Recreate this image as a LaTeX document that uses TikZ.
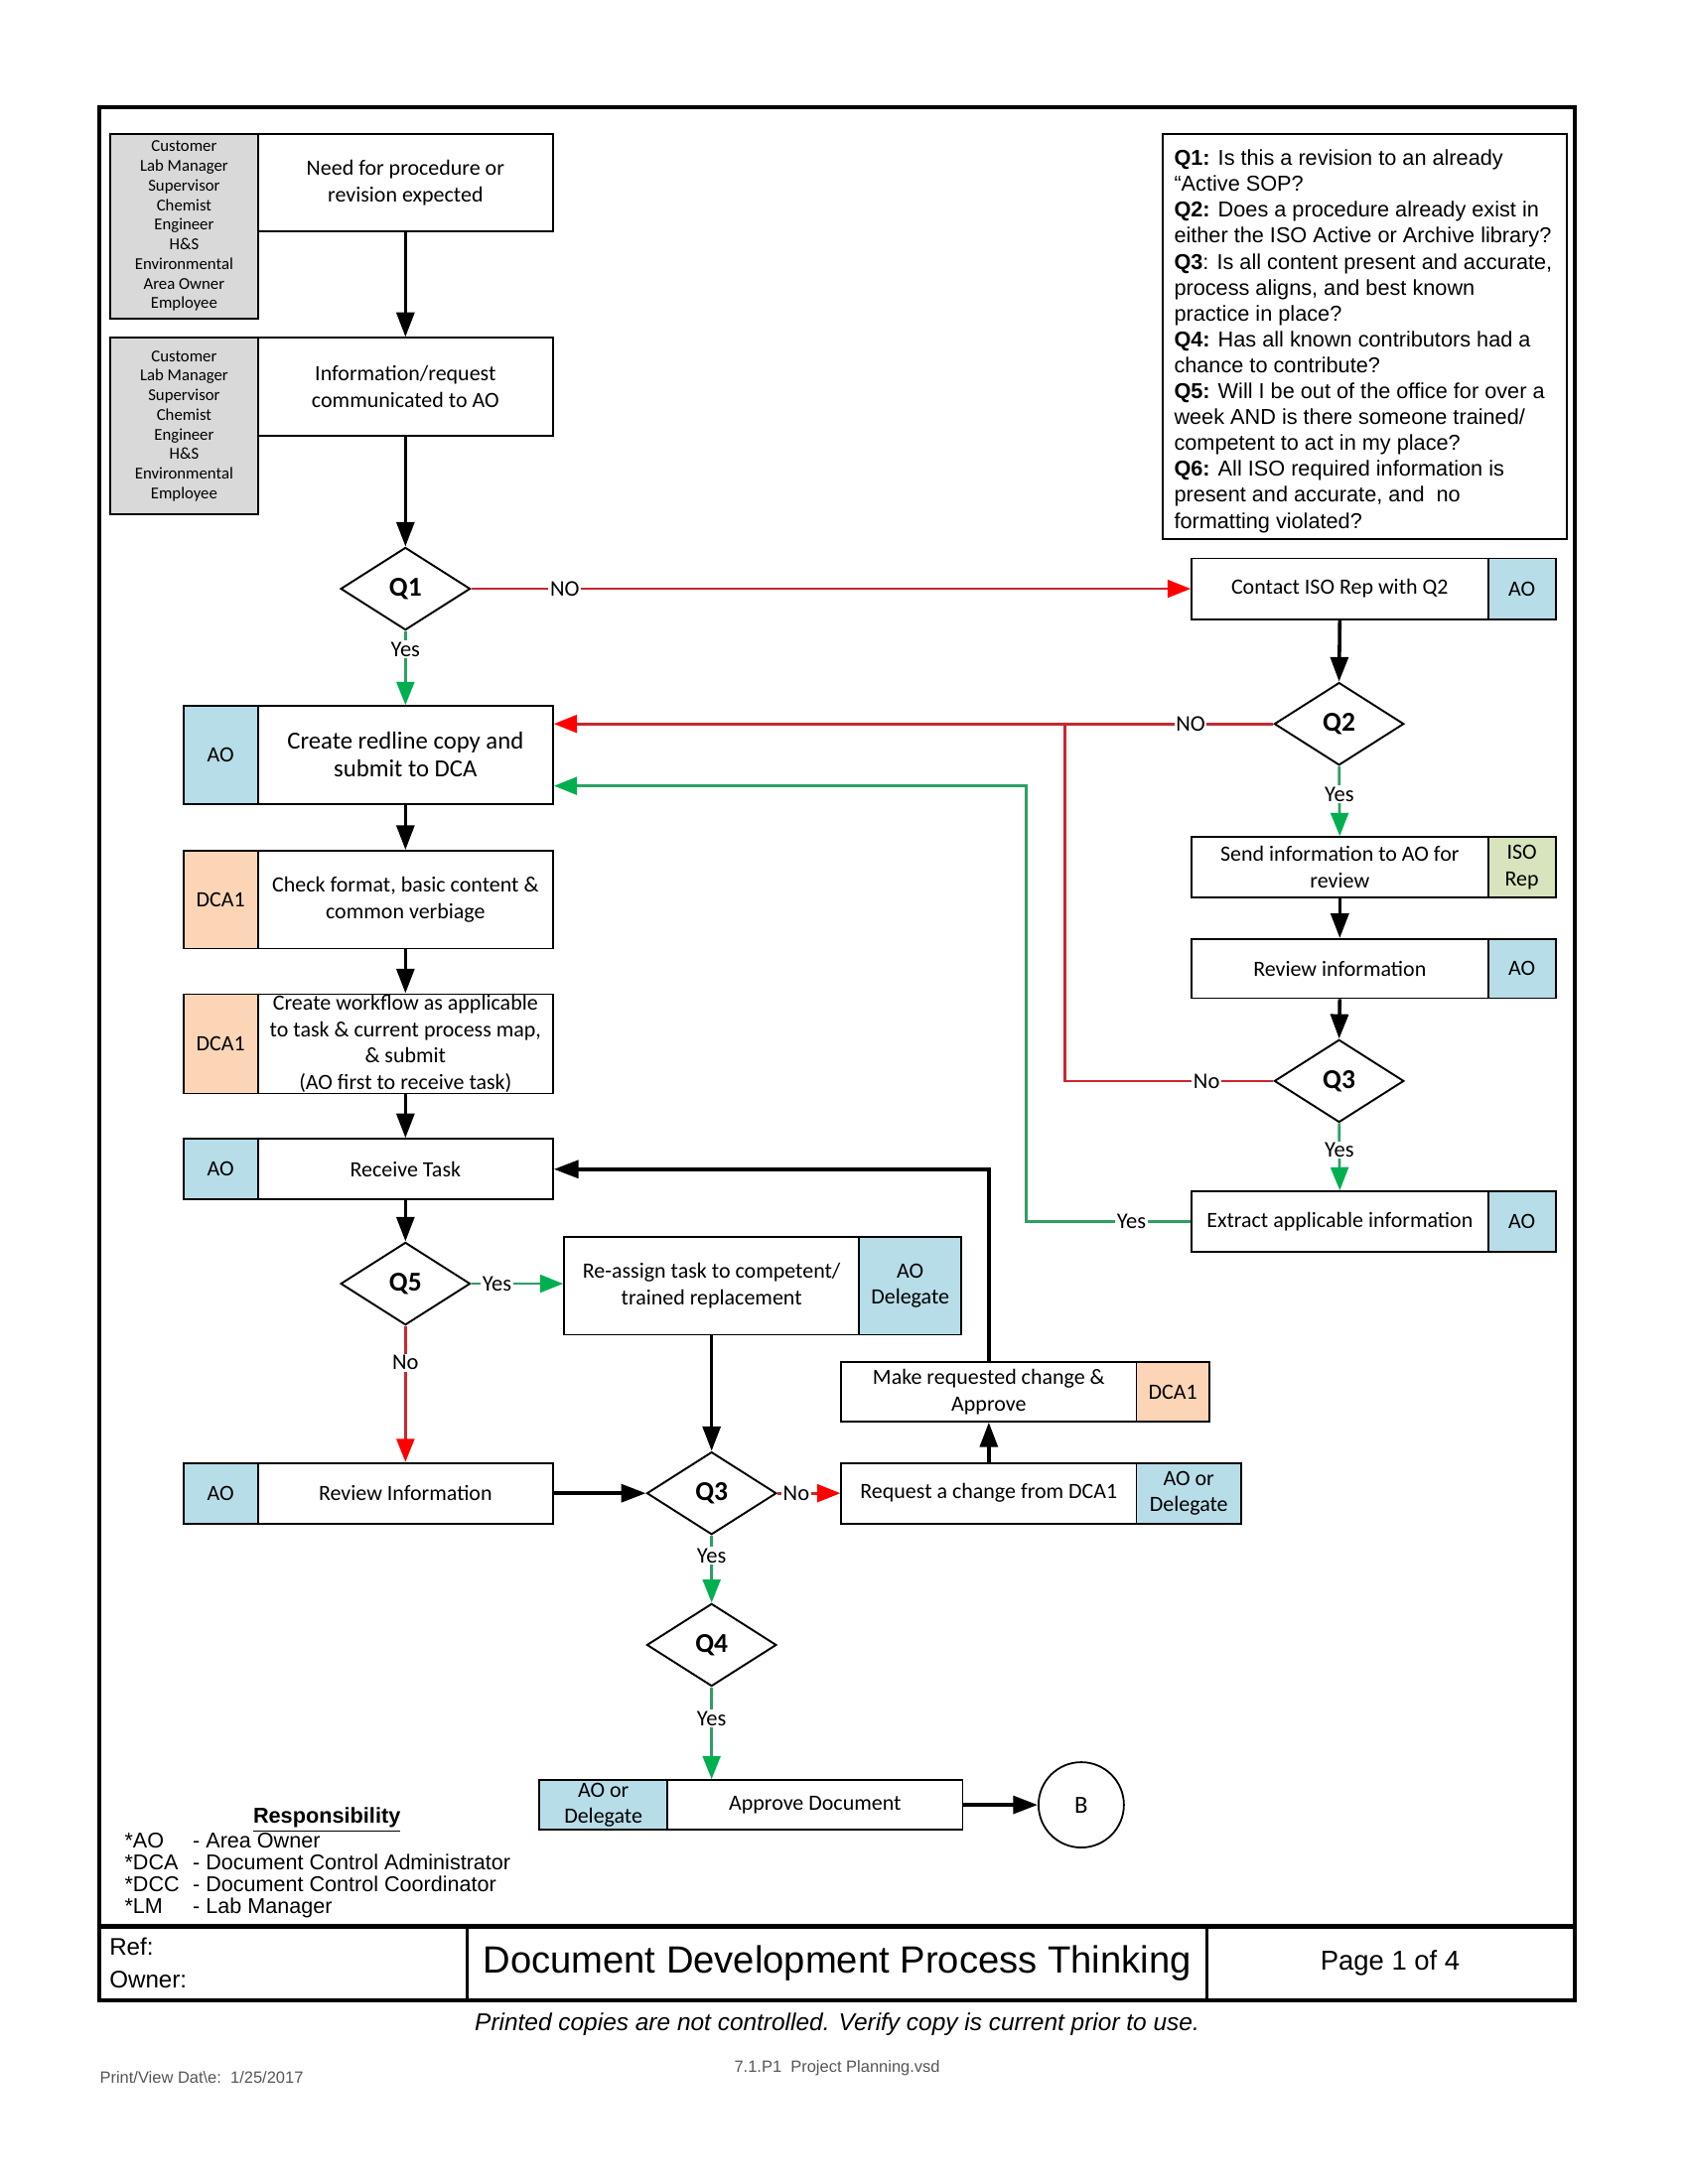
\documentclass[tikz,border=0pt]{standalone}
\usepackage{fontspec}
\setmainfont{Carlito}
\newfontfamily\arial{Liberation Sans}
\usetikzlibrary{arrows.meta,shapes.geometric}
\definecolor{roleblue}{HTML}{B7DDE8}
\definecolor{rolepeach}{HTML}{FBD5B5}
\definecolor{rolegray}{HTML}{D9D9D9}
\definecolor{rolegreen}{HTML}{D7E4BD}
\definecolor{redline}{HTML}{C8282D}
\definecolor{redhead}{HTML}{FF0000}
\definecolor{greenline}{HTML}{2E9F63}
\definecolor{greenhead}{HTML}{00B050}
\definecolor{footgray}{HTML}{555555}
\def\ulen{0.5056pt}
\newcommand\bx[7]{\node[#6, minimum width={(#4-#2)*\ulen}, minimum height={(#5-#3)*\ulen}] (#1) at ({(#2+#4)/2},{(#3+#5)/2}) {#7};}
\tikzset{
  box/.style={draw, line width=0.65pt, inner sep=0pt, align=center, font=\fontsize{8}{9.6}\selectfont},
  blue/.style={box, fill=roleblue},
  peach/.style={box, fill=rolepeach},
  graybox/.style={box, fill=rolegray, font=\fontsize{6.1}{7.2}\selectfont},
  dia/.style={diamond, draw, line width=0.7pt, minimum width=47.5pt, minimum height=30.3pt, inner sep=0pt, font=\bfseries\fontsize{10}{12}\selectfont},
  blk/.style={line width=1.3pt, -{Triangle[length=9pt,width=6.5pt]}},
  redarr/.style={draw=redline, line width=1pt, -{Triangle[length=8.5pt,width=6.5pt,color=redhead]}},
  redl/.style={draw=redline, line width=1pt},
  grnarr/.style={draw=greenline, line width=1pt, -{Triangle[length=8.5pt,width=6.5pt,color=greenhead]}},
  lbl/.style={fill=white, inner sep=0.6pt, text=black, font=\fontsize{8.2}{9}\selectfont},
}
\begin{document}
\begin{tikzpicture}[x=\ulen,y=-\ulen]
\useasboundingbox (0,0) rectangle (1224,1584);
% frame and footer
\draw[line width=1.5pt] (72,78) rectangle (1142,1451);
\draw[line width=1.8pt] (72,1397) -- (1142,1397);
\draw[line width=1.1pt] (339,1397) -- (339,1451);
\draw[line width=1.1pt] (875,1397) -- (875,1451);
\node[anchor=west, inner sep=0pt, font=\arial\fontsize{8.8}{10}\selectfont] (ref) at (79,1412) {Ref:};
\node[anchor=west, inner sep=0pt, font=\arial\fontsize{8.8}{10}\selectfont] (owner) at (79,1436) {Owner:};
\node[inner sep=0pt, font=\arial\fontsize{13.9}{15}\selectfont] (title) at (607,1424) {Document Development Process Thinking};
\node[inner sep=0pt, font=\arial\fontsize{10}{11}\selectfont] (page) at (1008,1424) {Page 1 of 4};
\node[inner sep=0pt, font=\arial\itshape\fontsize{8.9}{11}\selectfont] (printed) at (607,1468) {Printed copies are not controlled. Verify copy is current prior to use.};
\node[inner sep=0pt, text=footgray, font=\arial\fontsize{6}{7}\selectfont] (vsd) at (607,1500) {7.1.P1\ \ Project Planning.vsd};
\node[anchor=west, inner sep=0pt, text=footgray, font=\arial\fontsize{6}{7}\selectfont] (pdate) at (72,1507) {Print/View Dat\textbackslash e:\ \ 1/25/2017};
% responsibility
\node[inner sep=0pt, font=\arial\bfseries\fontsize{7.9}{8}\selectfont] (resp) at (237,1320) {\underline{Responsibility}};
\node[anchor=north west, inner sep=0pt, align=left, font=\arial\fontsize{7.85}{8}\selectfont] (legend) at (90,1329)
 {\makebox[25pt][l]{*AO}- Area Owner\\\makebox[25pt][l]{*DCA}- Document Control Administrator\\\makebox[25pt][l]{*DCC}- Document Control Coordinator\\\makebox[25pt][l]{*LM}- Lab Manager};
% top-left boxes
\bx{g1}{80}{97}{187}{231}{graybox}{Customer\\Lab Manager\\Supervisor\\Chemist\\Engineer\\H\&S\\Environmental\\Area Owner\\Employee}
\bx{b1}{187}{97}{401}{168}{box}{Need for procedure or\\revision expected}
\bx{g2}{80}{245}{187}{373}{graybox}{Customer\\Lab Manager\\Supervisor\\Chemist\\Engineer\\H\&S\\Environmental\\Employee}
\bx{b2}{187}{245}{401}{316}{box}{Information/request\\communicated to AO}
\node[dia] (q1) at (294,427) {Q1};
% question box
\bx{qbox}{843}{97}{1136}{391}{box}{}
\node[anchor=west, inner sep=0pt, align=left, font=\arial\fontsize{7.9}{9.5}\selectfont] (qtext) at (851,247.5)
 {\textbf{Q1:} Is this a revision to an already\\“Active SOP?\\\textbf{Q2:} Does a procedure already exist in\\either the ISO Active or Archive library?\\\textbf{Q3}: Is all content present and accurate,\\process aligns, and best known\\practice in place?\\\textbf{Q4:} Has all known contributors had a\\chance to contribute?\\\textbf{Q5:} Will I be out of the office for over a\\week AND is there someone trained/\\competent to act in my place?\\\textbf{Q6:} All ISO required information is\\present and accurate, and\ \ no\\formatting violated?};
% right column
\bx{contact}{864}{405}{1079}{449}{box}{Contact ISO Rep with Q2}
\bx{contactr}{1079}{405}{1128}{449}{blue}{AO}
\node[dia] (q2) at (971,525) {Q2};
\bx{send}{864}{607}{1079}{651}{box}{Send information to AO for\\review}
\bx{sendr}{1079}{607}{1128}{651}{box,fill=rolegreen}{ISO\\Rep}
\bx{revr}{864}{681}{1079}{724}{box}{Review information}
\bx{revrr}{1079}{681}{1128}{724}{blue}{AO}
\node[dia] (q3r) at (971,784) {Q3};
\bx{extract}{864}{864}{1079}{908}{box}{Extract applicable information}
\bx{extractr}{1079}{864}{1128}{908}{blue}{AO}
% left column
\bx{creater}{133}{512}{187}{583}{blue}{AO}
\bx{create}{187}{512}{401}{583}{box,font=\fontsize{9}{10.2}\selectfont}{Create redline copy and\\submit to DCA}
\bx{checkr}{133}{617}{187}{688}{peach}{DCA1}
\bx{check}{187}{617}{401}{688}{box}{Check format, basic content \&\\common verbiage}
\bx{workr}{133}{721}{187}{793}{peach}{DCA1}
\bx{work}{187}{721}{401}{793}{box}{Create workflow as applicable\\to task \& current process map,\\\& submit\\(AO first to receive task)}
\bx{recvr}{133}{826}{187}{870}{blue}{AO}
\bx{recv}{187}{826}{401}{870}{box}{Receive Task}
\node[dia] (q5) at (294,931) {Q5};
\bx{reassign}{409}{897}{623}{968}{box}{Re-assign task to competent/\\trained replacement}
\bx{reassignr}{623}{897}{697}{968}{blue}{AO\\Delegate}
\bx{revir}{133}{1061}{187}{1105}{blue}{AO}
\bx{revi}{187}{1061}{401}{1105}{box}{Review Information}
\node[dia] (q3b) at (516,1083) {Q3};
\bx{make}{610}{988}{824}{1031}{box}{Make requested change \&\\Approve}
\bx{maker}{824}{988}{877}{1031}{peach}{DCA1}
\bx{req}{610}{1061}{824}{1105}{box}{Request a change from DCA1}
\bx{reqr}{824}{1061}{900}{1105}{blue}{AO or\\Delegate}
\node[dia] (q4) at (516,1193) {Q4};
\bx{appr}{391}{1291}{484}{1327}{blue}{AO or\\Delegate}
\bx{app}{484}{1291}{698}{1327}{box}{Approve Document}
\node[circle, draw, line width=0.65pt, minimum size=31.3pt, inner sep=0pt, font=\fontsize{9}{10}\selectfont] (B) at (784,1309) {B};
% coordinates
\coordinate (j1) at (772,525);
\coordinate (g1c) at (744,570);
% connectors
\draw[blk] (b1.south) -- (b2.north);
\draw[blk] (b2.south) -- (q1.north);
\draw[redarr] (q1.east) -- node[lbl, pos=0.13] {NO} (contact.west);
\draw[grnarr] (q1.south) -- node[lbl, pos=0.25] {Yes} (create.north);
\draw[blk] (contact.south) -- (q2.north);
\draw[redarr] (q2.west) -- node[lbl, pos=0.115] {NO} (q2.west -| create.east);
\draw[grnarr] (q2.south) -- node[lbl, pos=0.4] {Yes} (send.north);
\draw[blk] (send.south) -- (revr.north);
\draw[blk] (revr.south) -- (q3r.north);
\draw[redl] (q3r.west) -| node[lbl, pos=0.16] {No} (j1);
\draw[grnarr] (q3r.south) -- node[lbl, pos=0.4] {Yes} (extract.north);
\draw[grnarr] (extract.west) -| node[lbl, pos=0.18] {Yes} (g1c) -- (g1c -| create.east);
\draw[blk] (create.south) -- (check.north);
\draw[blk] (check.south) -- (work.north);
\draw[blk] (work.south) -- (recv.north);
\draw[blk] (recv.south) -- (q5.north);
\draw[grnarr] (q5.east) -- node[lbl, pos=0.28] {Yes} (q5.east -| reassign.west);
\draw[redarr] (q5.south) -- node[lbl, pos=0.27] {No} (revi.north);
\draw[blk] (revi.east) -- (q3b.west);
\draw[blk] (reassign.south) -- (q3b.north);
\draw[redarr] (q3b.east) -- node[lbl, pos=0.3] {No} (req.west);
\draw[blk] (req.north) -- (make.south);
\draw[blk] (make.north) |- (recv.east);
\draw[grnarr] (q3b.south) -- node[lbl, pos=0.3] {Yes} (q4.north);
\draw[grnarr] (q4.south) -- node[lbl, pos=0.34] {Yes} (q4.south |- app.north);
\draw[blk] (app.east) -- (B.west);
\end{tikzpicture}
\end{document}
